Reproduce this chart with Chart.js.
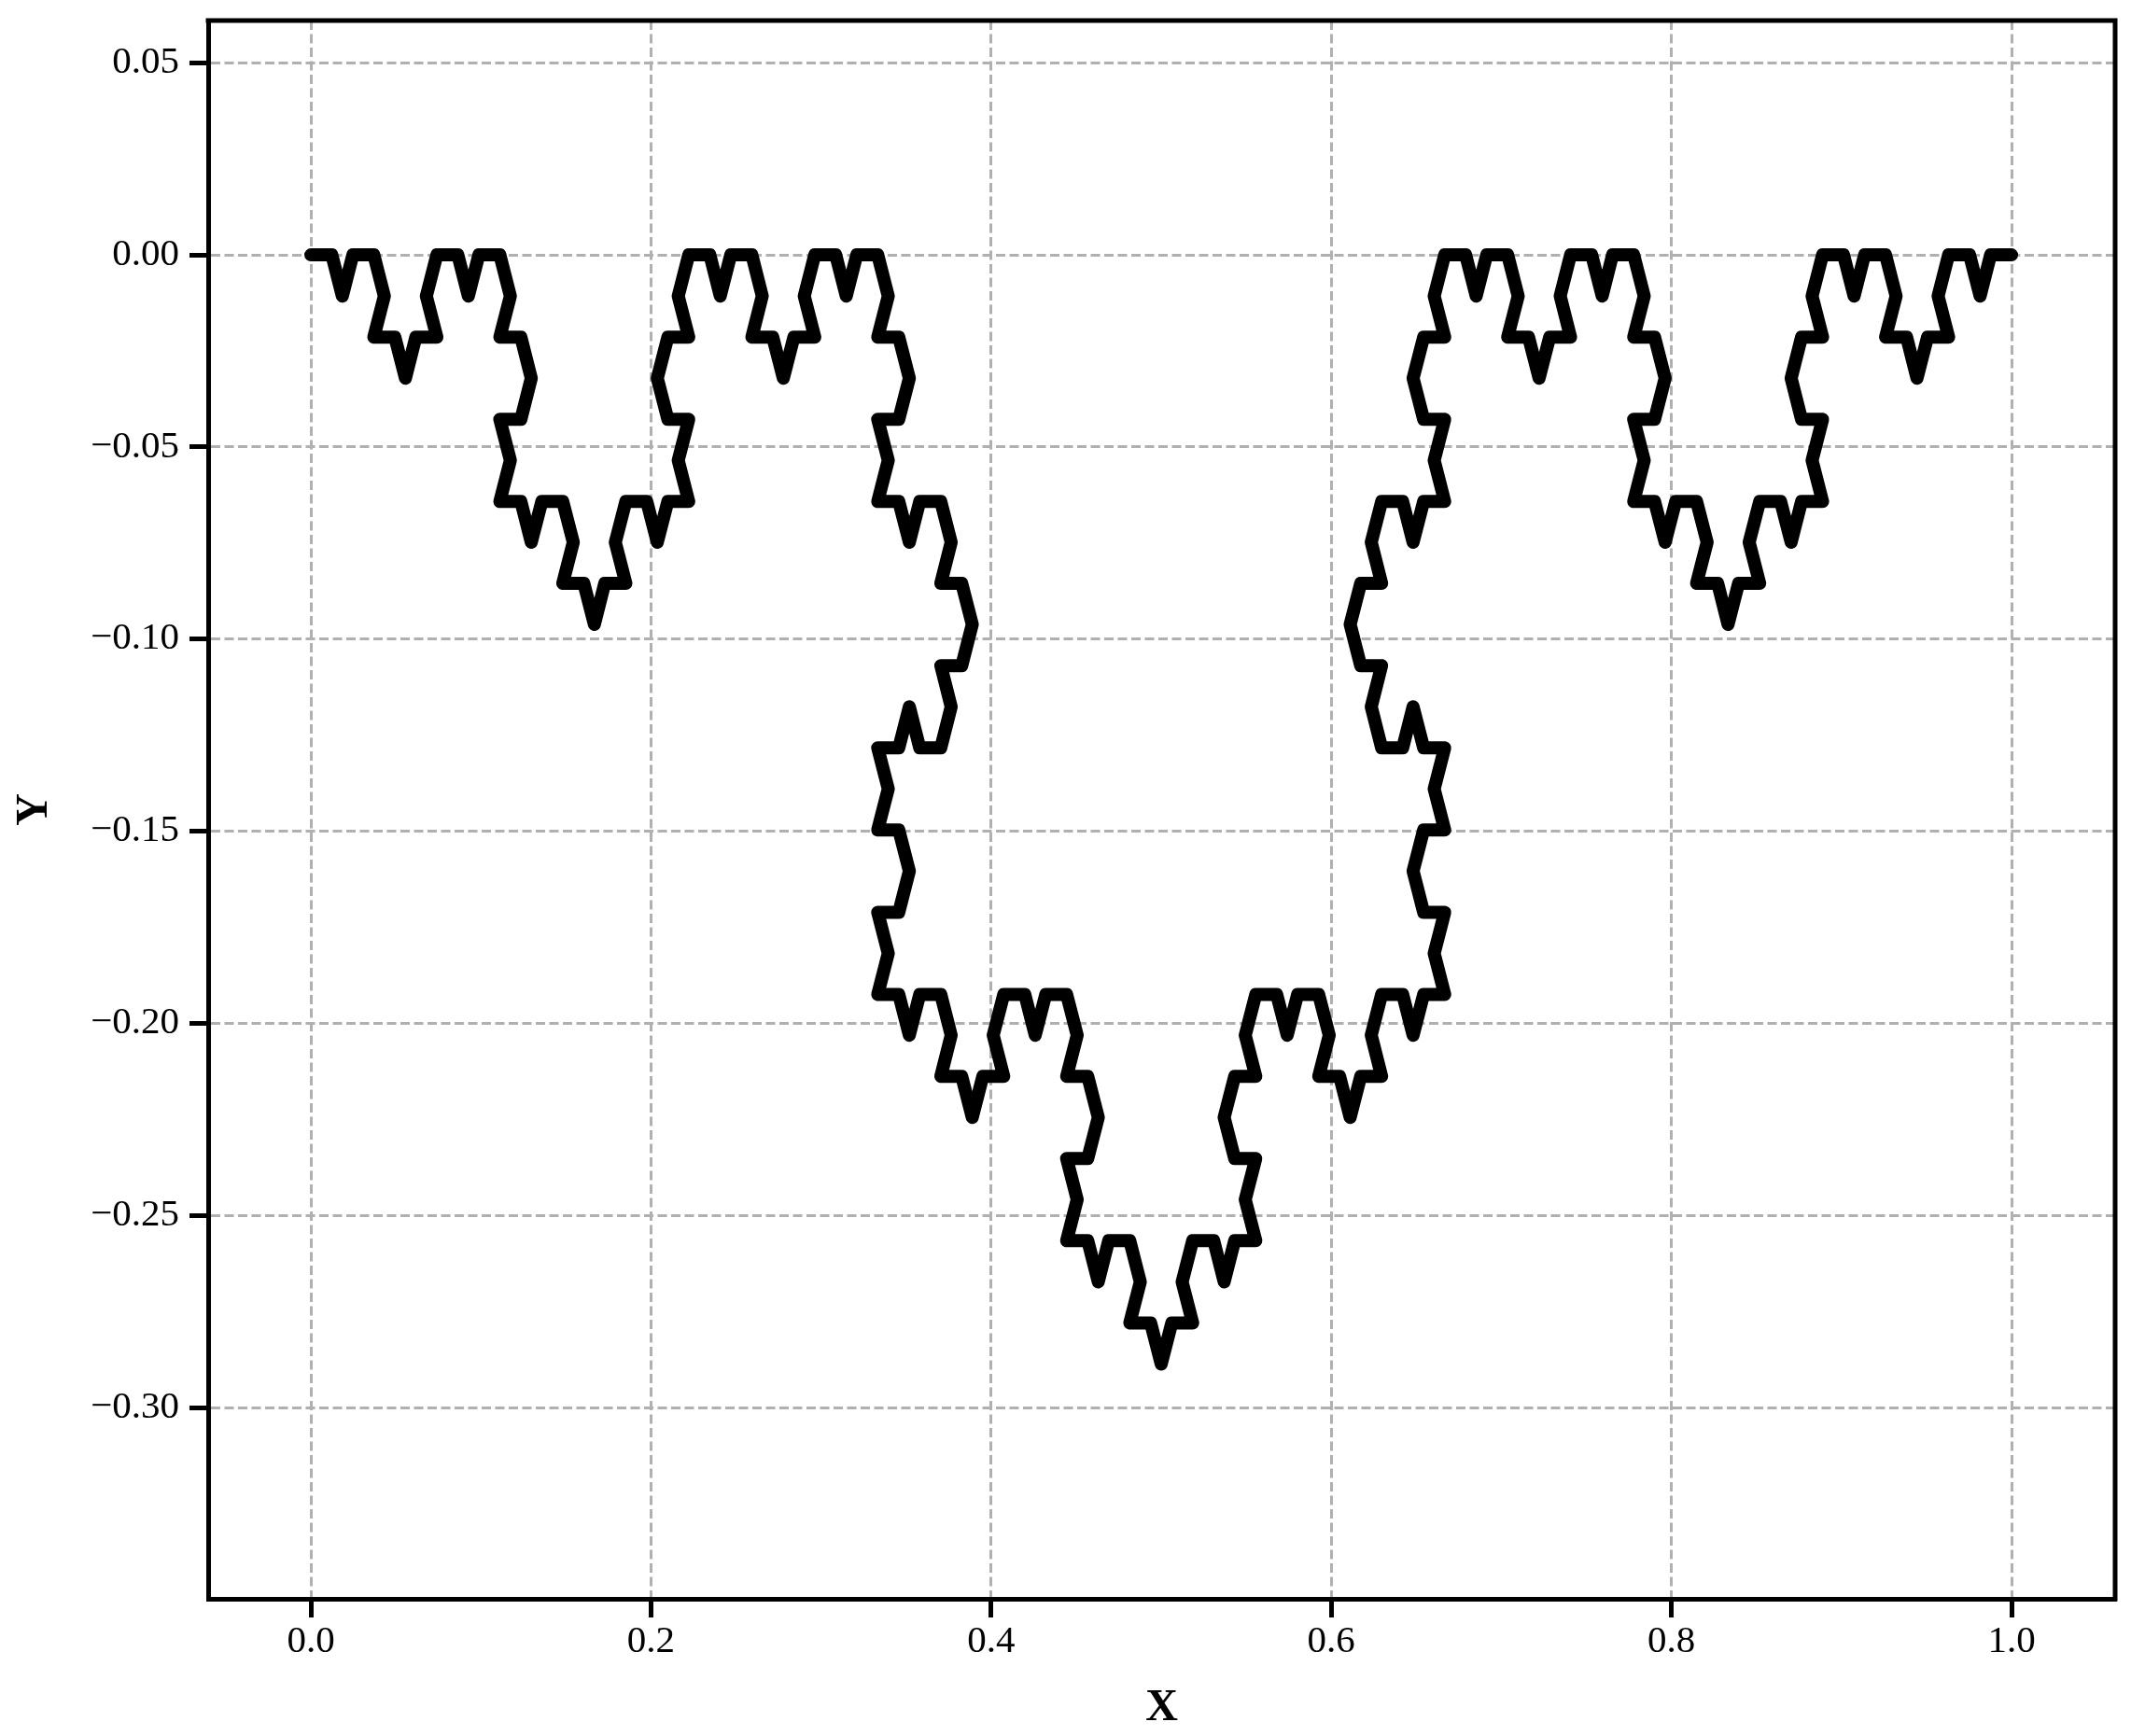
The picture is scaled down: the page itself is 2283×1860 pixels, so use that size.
<!DOCTYPE html>
<html>
  <head>
    <script src="https://cdn.jsdelivr.net/npm/chart.js"></script>
    <style>
      body { margin: 0; background: #fff; }
      canvas { display: block; }
    </style>
  </head>
  <body>
    <canvas id="kochChart" width="2283" height="1860"></canvas>

    <script>
      // Koch curve vertices (level 4)
      const kochX = [
        0, 0.0123, 0.0185, 0.0247, 0.0370, 0.0432, 0.0370, 0.0494, 0.0556, 0.0617, 0.0741, 0.0679, 0.0741, 0.0864, 0.0926, 0.0988,
        0.1111, 0.1173, 0.1111, 0.1235, 0.1296, 0.1235, 0.1111, 0.1173, 0.1111, 0.1235, 0.1296, 0.1358, 0.1481, 0.1543, 0.1481, 0.1605,
        0.1667, 0.1728, 0.1852, 0.1790, 0.1852, 0.1975, 0.2037, 0.2099, 0.2222, 0.2160, 0.2222, 0.2099, 0.2037, 0.2099, 0.2222, 0.2160,
        0.2222, 0.2346, 0.2407, 0.2469, 0.2593, 0.2654, 0.2593, 0.2716, 0.2778, 0.2840, 0.2963, 0.2901, 0.2963, 0.3086, 0.3148, 0.3210,
        0.3333, 0.3395, 0.3333, 0.3457, 0.3519, 0.3457, 0.3333, 0.3395, 0.3333, 0.3457, 0.3519, 0.3580, 0.3704, 0.3765, 0.3704, 0.3827,
        0.3889, 0.3827, 0.3704, 0.3765, 0.3704, 0.3580, 0.3519, 0.3457, 0.3333, 0.3395, 0.3333, 0.3457, 0.3519, 0.3457, 0.3333, 0.3395,
        0.3333, 0.3457, 0.3519, 0.3580, 0.3704, 0.3765, 0.3704, 0.3827, 0.3889, 0.3951, 0.4074, 0.4012, 0.4074, 0.4198, 0.4259, 0.4321,
        0.4444, 0.4506, 0.4444, 0.4568, 0.4630, 0.4568, 0.4444, 0.4506, 0.4444, 0.4568, 0.4630, 0.4691, 0.4815, 0.4877, 0.4815, 0.4938,
        0.5,
        0.5062, 0.5185, 0.5123, 0.5185, 0.5309, 0.5370, 0.5432, 0.5556, 0.5494, 0.5556, 0.5432, 0.5370, 0.5432, 0.5556, 0.5494, 0.5556,
        0.5679, 0.5741, 0.5802, 0.5926, 0.5988, 0.5926, 0.6049, 0.6111, 0.6173, 0.6296, 0.6235, 0.6296, 0.6420, 0.6481, 0.6543, 0.6667,
        0.6605, 0.6667, 0.6543, 0.6481, 0.6543, 0.6667, 0.6605, 0.6667, 0.6543, 0.6481, 0.6420, 0.6296, 0.6235, 0.6296, 0.6173, 0.6111,
        0.6173, 0.6296, 0.6235, 0.6296, 0.6420, 0.6481, 0.6543, 0.6667, 0.6605, 0.6667, 0.6543, 0.6481, 0.6543, 0.6667, 0.6605, 0.6667,
        0.6790, 0.6852, 0.6914, 0.7037, 0.7099, 0.7037, 0.7160, 0.7222, 0.7284, 0.7407, 0.7346, 0.7407, 0.7531, 0.7593, 0.7654, 0.7778,
        0.7840, 0.7778, 0.7901, 0.7963, 0.7901, 0.7778, 0.7840, 0.7778, 0.7901, 0.7963, 0.8025, 0.8148, 0.8210, 0.8148, 0.8272, 0.8333,
        0.8395, 0.8519, 0.8457, 0.8519, 0.8642, 0.8704, 0.8765, 0.8889, 0.8827, 0.8889, 0.8765, 0.8704, 0.8765, 0.8889, 0.8827, 0.8889,
        0.9012, 0.9074, 0.9136, 0.9259, 0.9321, 0.9259, 0.9383, 0.9444, 0.9506, 0.9630, 0.9568, 0.9630, 0.9753, 0.9815, 0.9877, 1
      ];
      const kochY = [
        0, 0, -0.0107, 0, 0, -0.0107, -0.0214, -0.0214, -0.0321, -0.0214, -0.0214, -0.0107, 0, 0, -0.0107, 0,
        0, -0.0107, -0.0214, -0.0214, -0.0321, -0.0428, -0.0428, -0.0535, -0.0642, -0.0642, -0.0748, -0.0642, -0.0642, -0.0748, -0.0855, -0.0855,
        -0.0962, -0.0855, -0.0855, -0.0748, -0.0642, -0.0642, -0.0748, -0.0642, -0.0642, -0.0535, -0.0428, -0.0428, -0.0321, -0.0214, -0.0214, -0.0107,
        0, 0, -0.0107, 0, 0, -0.0107, -0.0214, -0.0214, -0.0321, -0.0214, -0.0214, -0.0107, 0, 0, -0.0107, 0,
        0, -0.0107, -0.0214, -0.0214, -0.0321, -0.0428, -0.0428, -0.0535, -0.0642, -0.0642, -0.0748, -0.0642, -0.0642, -0.0748, -0.0855, -0.0855,
        -0.0962, -0.1069, -0.1069, -0.1176, -0.1283, -0.1283, -0.1176, -0.1283, -0.1283, -0.1390, -0.1497, -0.1497, -0.1604, -0.1711, -0.1711, -0.1818,
        -0.1925, -0.1925, -0.2031, -0.1925, -0.1925, -0.2031, -0.2138, -0.2138, -0.2245, -0.2138, -0.2138, -0.2031, -0.1925, -0.1925, -0.2031, -0.1925,
        -0.1925, -0.2031, -0.2138, -0.2138, -0.2245, -0.2352, -0.2352, -0.2459, -0.2566, -0.2566, -0.2673, -0.2566, -0.2566, -0.2673, -0.2780, -0.2780,
        -0.2887,
        -0.2780, -0.2780, -0.2673, -0.2566, -0.2566, -0.2673, -0.2566, -0.2566, -0.2459, -0.2352, -0.2352, -0.2245, -0.2138, -0.2138, -0.2031, -0.1925,
        -0.1925, -0.2031, -0.1925, -0.1925, -0.2031, -0.2138, -0.2138, -0.2245, -0.2138, -0.2138, -0.2031, -0.1925, -0.1925, -0.2031, -0.1925, -0.1925,
        -0.1818, -0.1711, -0.1711, -0.1604, -0.1497, -0.1497, -0.1390, -0.1283, -0.1283, -0.1176, -0.1283, -0.1283, -0.1176, -0.1069, -0.1069, -0.0962,
        -0.0855, -0.0855, -0.0748, -0.0642, -0.0642, -0.0748, -0.0642, -0.0642, -0.0535, -0.0428, -0.0428, -0.0321, -0.0214, -0.0214, -0.0107, 0,
        0, -0.0107, 0, 0, -0.0107, -0.0214, -0.0214, -0.0321, -0.0214, -0.0214, -0.0107, 0, 0, -0.0107, 0, 0,
        -0.0107, -0.0214, -0.0214, -0.0321, -0.0428, -0.0428, -0.0535, -0.0642, -0.0642, -0.0748, -0.0642, -0.0642, -0.0748, -0.0855, -0.0855, -0.0962,
        -0.0855, -0.0855, -0.0748, -0.0642, -0.0642, -0.0748, -0.0642, -0.0642, -0.0535, -0.0428, -0.0428, -0.0321, -0.0214, -0.0214, -0.0107, 0,
        0, -0.0107, 0, 0, -0.0107, -0.0214, -0.0214, -0.0321, -0.0214, -0.0214, -0.0107, 0, 0, -0.0107, 0, 0
      ];
      const xTicks = [0.0, 0.2, 0.4, 0.6, 0.8, 1.0];
      const yTicks = [0.05, 0.00, -0.05, -0.10, -0.15, -0.20, -0.25, -0.30];

      const points = kochX.map((x, i) => ({ x: x, y: kochY[i] }));

      // matplotlib-style closed box (top + right spines)
      const boxPlugin = {
        id: 'box',
        afterDraw(chart) {
          const { ctx, chartArea: a } = chart;
          ctx.save();
          ctx.strokeStyle = '#000';
          ctx.lineWidth = 5;
          ctx.beginPath();
          ctx.moveTo(a.left - 2.5, a.top);
          ctx.lineTo(a.right, a.top);
          ctx.lineTo(a.right, a.bottom + 2.5);
          ctx.stroke();
          ctx.restore();
        }
      };

      const tickFont = { family: 'Liberation Serif', size: 41 };
      const titleFont = { family: 'Liberation Serif', size: 48, weight: 'bold' };
      const gridStyle = {
        color: '#b0b0b0',
        lineWidth: 3,
        tickLength: 20,
        tickWidth: 5,
        tickColor: '#000',
        tickBorderDash: []
      };

      new Chart(document.getElementById('kochChart').getContext('2d'), {
        type: 'scatter',
        data: {
          datasets: [{
            data: points,
            showLine: true,
            borderColor: '#000',
            backgroundColor: '#000',
            borderWidth: 14,
            borderJoinStyle: 'round',
            borderCapStyle: 'round',
            pointRadius: 0,
            tension: 0
          }]
        },
        options: {
          responsive: false,
          animation: false,
          devicePixelRatio: 1,
          layout: { padding: { left: 0, top: 22, right: 17, bottom: 0 } },
          plugins: { legend: { display: false }, tooltip: { enabled: false } },
          scales: {
            x: {
              type: 'linear',
              min: -0.0604,
              max: 1.0609,
              afterFit: s => { s.height = 147; s.paddingLeft = 0; s.paddingRight = 0; },
              afterBuildTicks: s => { s.ticks = xTicks.map(v => ({ value: v })); },
              grid: gridStyle,
              border: { color: '#000', width: 5, dash: [10, 4.5] },
              ticks: {
                color: '#000',
                font: tickFont,
                padding: 2,
                maxRotation: 0,
                callback: v => v.toFixed(1)
              },
              title: { display: true, text: 'X', color: '#000', font: titleFont, padding: { top: 0, bottom: 1 } }
            },
            y: {
              type: 'linear',
              min: -0.3498,
              max: 0.0610,
              afterFit: s => { s.width = 223; s.paddingTop = 0; s.paddingBottom = 0; },
              afterBuildTicks: s => { s.ticks = yTicks.map(v => ({ value: v })); },
              grid: gridStyle,
              border: { color: '#000', width: 5, dash: [10, 4.5] },
              ticks: {
                color: '#000',
                font: tickFont,
                padding: 11,
                callback: v => v.toFixed(2).replace('-', '\u2212')
              },
              title: { display: true, text: 'Y', color: '#000', font: titleFont, padding: { top: 9, bottom: 0 } }
            }
          }
        },
        plugins: [boxPlugin]
      });
    </script>
  </body>
</html>
